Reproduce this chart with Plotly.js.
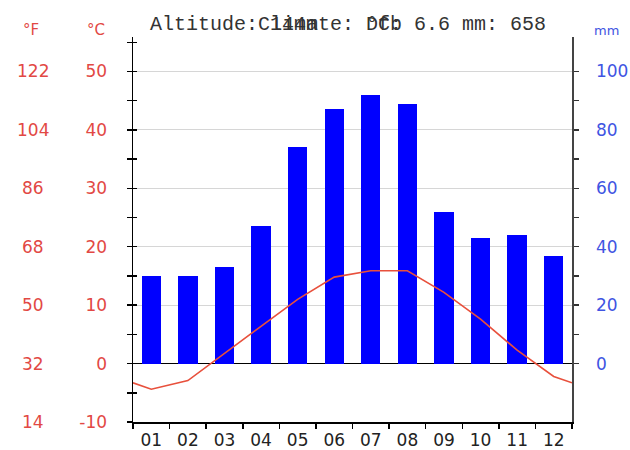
<!DOCTYPE html>
<html>
<head>
<meta charset="utf-8">
<script src="https://cdn.plot.ly/plotly-3.0.1.min.js"></script>
<style>html,body{margin:0;padding:0;background:#fff;}#chart{width:630px;height:450px;}</style>
</head>
<body>
<div id="chart"></div>
<script>
// Data
const months = ["01","02","03","04","05","06","07","08","09","10","11","12"];
const precipMM = [30, 30, 33, 47, 74, 87, 92, 89, 52, 43, 44, 37];
const tempC = [-4.4, -2.9, 1.7, 6.3, 11.0, 14.8, 15.9, 15.9, 12.2, 7.6, 2.3, -2.2];
const tempEdgeC = -3.3; // value of the line at the left/right borders (read)
const celsiusTicks = [-10, 0, 10, 20, 30, 40, 50];
const fahrenheitLabels = ["14", "32", "50", "68", "86", "104", "122"];
const mmTickVals = [0, 10, 20, 30, 40, 50, 60, 70, 80, 90, 100];
const mmTickText = ["0", "", "20", "", "40", "", "60", "", "80", "", "100"];
const headerTexts = ["Altitude: 144m", "Climate: Dfb", "°C: 6.6", "mm: 658"];

const red = 'rgb(226,72,68)';
const blue = 'rgb(64,84,226)';
const monthNums = months.map((m, i) => i + 1);

const barTrace = {
  type: 'bar', x: monthNums, y: precipMM, xaxis: 'x', yaxis: 'y',
  marker: {color: '#0000ff', line: {width: 0}}, width: 0.53, hoverinfo: 'skip'
};
const lineTrace = {
  type: 'scatter', mode: 'lines',
  x: [0.5].concat(monthNums, [12.5]),
  y: [tempEdgeC].concat(tempC, [tempEdgeC]),
  xaxis: 'x', yaxis: 'y2',
  line: {color: 'rgb(232,80,60)', width: 1.6}, hoverinfo: 'skip'
};
const tickTrace = {type: 'scatter', x: [], y: [], xaxis: 'x', yaxis: 'y3', showlegend: false};

// plot area pixel geometry
const L = 133, R = 572, T = 37, B = 422;
const px = x => (x - L) / (R - L);
const py = y => (B - y) / (B - T);

const annotations = [];
headerTexts.forEach((t, i) => {
  const xs = [148, 256, 364, 460][i];
  annotations.push({xref: 'paper', yref: 'paper', x: px(xs), y: py(25), xanchor: 'left', yanchor: 'middle',
    text: t, showarrow: false, font: {family: 'Liberation Mono, monospace', size: 20, color: '#333'}});
});
annotations.push({xref: 'paper', yref: 'paper', x: px(31), y: py(30), xanchor: 'center', yanchor: 'middle',
  text: '°F', showarrow: false, font: {family: 'DejaVu Sans', size: 15, color: red}});
annotations.push({xref: 'paper', yref: 'paper', x: px(96), y: py(30), xanchor: 'center', yanchor: 'middle',
  text: '°C', showarrow: false, font: {family: 'DejaVu Sans', size: 15, color: red}});
annotations.push({xref: 'paper', yref: 'paper', x: px(606), y: py(30), xanchor: 'center', yanchor: 'middle',
  text: 'mm', showarrow: false, font: {family: 'DejaVu Sans', size: 13, color: blue}});
celsiusTicks.forEach((c, i) => {
  annotations.push({xref: 'paper', yref: 'y2', x: px(33), y: c, xanchor: 'center', yanchor: 'middle',
    text: fahrenheitLabels[i], showarrow: false, font: {family: 'DejaVu Sans', size: 17, color: red}});
});

const layout = {
  width: 630, height: 450,
  margin: {l: L, r: 630 - R, t: T, b: 450 - B, pad: 0},
  paper_bgcolor: '#fff', plot_bgcolor: '#fff',
  showlegend: false, bargap: 0,
  xaxis: {
    range: [0.5, 12.5], tickmode: 'array', tickvals: monthNums, ticktext: months,
    ticks: '', showgrid: false, zeroline: false, showline: true, linecolor: '#000', linewidth: 1.5,
    tickfont: {family: 'DejaVu Sans', size: 17, color: '#222'},
    ticklabelstandoff: 2,
    minor: {tickmode: 'linear', tick0: 0.5, dtick: 1, ticks: 'outside', ticklen: 5, tickcolor: '#000', tickwidth: 1.5, showgrid: false},
    fixedrange: true
  },
  yaxis: {
    side: 'right', range: [-20, 111.8], tickmode: 'array', tickvals: mmTickVals, ticktext: mmTickText,
    ticks: 'outside', ticklen: 5, tickcolor: '#333', tickwidth: 1.5,
    showgrid: false,
    zeroline: true, zerolinecolor: '#000', zerolinewidth: 1.5,
    showline: true, linecolor: '#444', linewidth: 1.5,
    tickfont: {family: 'DejaVu Sans', size: 17, color: blue},
    ticklabelstandoff: 14,
    fixedrange: true
  },
  yaxis2: {
    overlaying: 'y', side: 'left', range: [-10, 55.9], tickmode: 'array', tickvals: celsiusTicks,
    ticktext: celsiusTicks.map(String),
    ticks: 'outside', ticklen: 5, tickcolor: '#000', tickwidth: 1.5,
    showgrid: true, gridcolor: '#d6d6d6', gridwidth: 1,
    zeroline: false, showline: true, linecolor: '#000', linewidth: 1.5,
    tickfont: {family: 'DejaVu Sans', size: 17, color: red},
    ticklabelstandoff: 16,
    minor: {tickmode: 'linear', tick0: 0, dtick: 5, ticks: 'outside', ticklen: 5, tickcolor: '#000', tickwidth: 1.5, showgrid: false},
    fixedrange: true
  },
  yaxis3: {
    overlaying: 'y', side: 'left', range: [-10, 55.9], tickmode: 'linear', tick0: 0, dtick: 5,
    ticks: 'inside', ticklen: 4, tickcolor: '#000', tickwidth: 1.5, showticklabels: false,
    showgrid: false, zeroline: false, showline: false, fixedrange: true
  },
  annotations: annotations
};

Plotly.newPlot('chart', [barTrace, tickTrace, lineTrace], layout, {displayModeBar: false, staticPlot: true});
</script>
</body>
</html>
